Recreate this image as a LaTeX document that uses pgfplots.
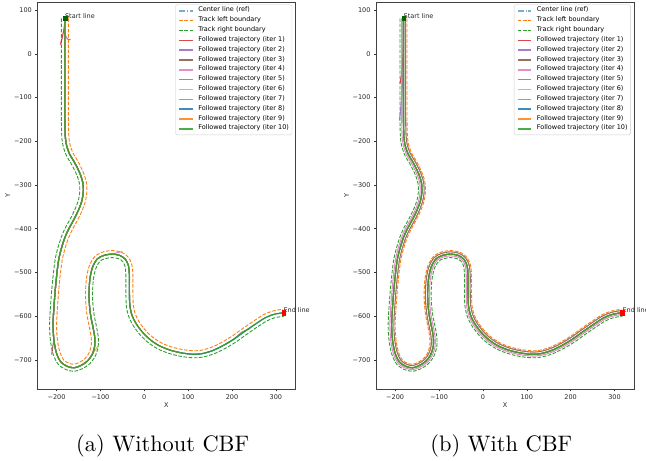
\documentclass[border=0pt]{standalone}
\usepackage{fontspec}
\usepackage{pgfplots}
\usepackage{pgfplotstable}
\pgfplotsset{compat=1.18}

\newfontfamily\dejavu{DejaVu Sans}
\newcommand\tickfont{\dejavu\fontsize{6.5}{7.5}\selectfont}

\definecolor{tabblue}{RGB}{31,119,180}
\definecolor{taborange}{RGB}{255,127,14}
\definecolor{tabgreen}{RGB}{44,160,44}
\definecolor{tabred}{RGB}{214,39,40}
\definecolor{tabpurple}{RGB}{148,103,189}
\definecolor{tabbrown}{RGB}{140,86,75}
\definecolor{tabpink}{RGB}{227,119,194}
\definecolor{tabgray}{RGB}{127,127,127}
\definecolor{tabolive}{RGB}{188,189,34}
\definecolor{tabcyan}{RGB}{23,190,207}
\definecolor{darkgreen}{RGB}{0,100,0}

% reference centre line of the track
\pgfplotstableread{
x y
-181 81
-181 40
-181 0
-181 -50
-181 -100
-181 -150
-180 -190
-177 -210
-170 -230
-161 -245
-152 -262
-145 -278
-140 -295
-139 -315
-142 -335
-149 -355
-160 -378
-172 -400
-181 -420
-189 -445
-195 -470
-199 -500
-203 -540
-206 -580
-208 -620
-206 -655
-200 -685
-190 -705
-175 -715
-160 -718
-145 -713
-130 -703
-119 -688
-113 -668
-113 -648
-117 -625
-122 -600
-125 -575
-126 -548
-124 -515
-118 -488
-107 -469
-92 -461
-74 -458
-56 -461
-43 -470
-36 -485
-34 -505
-34 -540
-33 -575
-28 -598
-18 -618
-3 -638
15 -655
35 -668
60 -678
85 -684
110 -687
130 -686
155 -679
180 -667
205 -652
230 -634
255 -617
275 -604
295 -596
317 -592
}\trkC

% left boundary
\pgfplotstableread{
x y
-173 81
-173 40
-173 0
-173 -50
-173 -100
-173 -150
-172 -189.5
-169.2 -208.1
-162.7 -226.7
-154 -241.1
-144.8 -258.5
-137.5 -275.3
-132.1 -293.7
-131 -315.4
-134.2 -336.9
-141.6 -358.1
-152.9 -381.6
-164.8 -403.6
-173.5 -422.8
-181.3 -447.2
-187.1 -471.4
-191.1 -500.9
-195 -540.7
-198 -580.5
-200 -620
-198.1 -654
-192.4 -682.6
-183.9 -699.9
-171.8 -707.7
-160.5 -710
-148.6 -705.8
-135.5 -697.2
-126.2 -684.5
-120.9 -666.8
-121 -648.7
-124.9 -626.5
-129.9 -601.3
-133 -575.6
-134 -547.9
-131.9 -513.9
-125.5 -485.2
-112.8 -463.5
-94.5 -453.4
-74 -450
-53.1 -453.5
-36.9 -464.9
-28.3 -483
-26 -504.7
-26 -539.9
-25 -574.2
-20.4 -595.4
-11.2 -613.8
3 -632.7
20 -648.7
38.6 -660.9
62.4 -670.4
86.4 -676.1
110.4 -679
128.6 -678.1
152.2 -671.5
176.2 -660
200.6 -645.3
225.4 -627.4
250.6 -610.3
271.3 -596.9
292.8 -588.3
315.6 -584.1
}\trkL

% right boundary
\pgfplotstableread{
x y
-189 81
-189 40
-189 0
-189 -50
-189 -100
-189 -150
-188 -190.5
-184.8 -211.9
-177.3 -233.3
-168 -248.9
-159.2 -265.5
-152.5 -280.7
-147.9 -296.3
-147 -314.6
-149.8 -333.1
-156.4 -351.9
-167.1 -374.4
-179.2 -396.4
-188.5 -417.2
-196.7 -442.8
-202.9 -468.6
-206.9 -499.1
-211 -539.3
-214 -579.5
-216 -620
-213.9 -656
-207.6 -687.4
-196.1 -710.1
-178.2 -722.3
-159.5 -726
-141.4 -720.2
-124.5 -708.8
-111.8 -691.5
-105.1 -669.2
-105 -647.3
-109.1 -623.5
-114.1 -598.7
-117 -574.4
-118 -548.1
-116.1 -516.1
-110.5 -490.8
-101.2 -474.5
-89.5 -468.6
-74 -466
-58.9 -468.5
-49.1 -475.1
-43.7 -487
-42 -505.3
-42 -540.1
-41 -575.8
-35.6 -600.6
-24.8 -622.2
-9 -643.3
10 -661.3
31.4 -675.1
57.6 -685.6
83.6 -691.9
109.6 -695
131.4 -693.9
157.8 -686.5
183.8 -674
209.4 -658.7
234.6 -640.6
259.4 -623.7
278.7 -611.1
297.2 -603.7
318.4 -599.9
}\trkR

% with CBF: iteration 3 (hugs the left side)
\pgfplotstableread{
x y
-176 81
-176 40
-176 0
-176 -50
-176 -100
-176 -150
-175 -189.7
-172.2 -208.8
-165.5 -227.9
-156.6 -242.6
-147.5 -259.8
-140.3 -276.3
-135.1 -294.2
-134 -315.3
-137.2 -336.2
-144.4 -356.9
-155.5 -380.3
-167.5 -402.2
-176.3 -421.8
-184.2 -446.4
-190.1 -470.9
-194 -500.6
-198 -540.4
-201 -580.3
-203 -620
-201 -654.4
-195.2 -683.5
-186.2 -701.8
-173 -710.4
-160.3 -713
-147.2 -708.5
-133.5 -699.4
-123.5 -685.8
-117.9 -667.3
-118 -648.5
-121.9 -625.9
-126.9 -600.8
-130 -575.4
-131 -547.9
-129 -514.3
-122.7 -486.3
-110.6 -465.5
-93.6 -456.3
-74 -453
-54.2 -456.3
-39.2 -466.8
-31.2 -483.8
-29 -504.8
-29 -540
-28 -574.5
-23.3 -596.4
-13.8 -615.4
0.7 -634.7
18.1 -651.1
37.3 -663.5
61.5 -673.2
85.9 -679.1
110.2 -682
129.1 -681.1
153.2 -674.3
177.6 -662.6
202.2 -647.8
227.1 -629.9
252.2 -612.8
272.7 -599.6
293.6 -591.2
316.1 -587.1
}\trajB

% with CBF: iteration 4 (right side)
\pgfplotstableread{
x y
-185 81
-185 40
-185 0
-185 -50
-185 -100
-185 -150
-184 -190.3
-180.9 -211
-173.6 -231.7
-164.5 -247
-155.6 -263.7
-148.8 -279.4
-143.9 -295.6
-143 -314.8
-145.9 -334
-152.7 -353.5
-163.6 -376.2
-175.6 -398.2
-184.7 -418.6
-192.9 -443.9
-198.9 -469.3
-203 -499.5
-207 -539.7
-210 -579.8
-212 -620
-210 -655.5
-203.8 -686.2
-193.1 -707.6
-176.6 -718.7
-159.7 -722
-143.2 -716.6
-127.2 -705.9
-115.4 -689.7
-109 -668.6
-109 -647.6
-113.1 -624.3
-118.1 -599.4
-121 -574.7
-122 -548.1
-120 -515.5
-114.2 -489.4
-104.1 -471.8
-90.7 -464.8
-74 -462
-57.4 -464.7
-46.1 -472.6
-39.9 -486
-38 -505.1
-38 -540
-37 -575.4
-31.8 -599.3
-21.4 -620.1
-6 -640.7
12.5 -658.1
33.2 -671.6
58.8 -681.8
84.3 -687.9
109.8 -691
130.7 -689.9
156.4 -682.7
181.9 -670.5
207.2 -655.3
232.3 -637.3
257.2 -620.3
276.9 -607.5
296.1 -599.8
317.7 -595.9
}\trajP

\pgfplotsset{
  trackaxis/.style={
    anchor=south west,
    scale only axis,
    width=257.5pt, height=387.4pt,
    xmin=-243, xmax=344, ymin=-767, ymax=119,
    xtick={-200,-100,0,100,200,300},
    xticklabels={−200,−100,0,100,200,300},
    ytick={100,0,-100,-200,-300,-400,-500,-600,-700},
    yticklabels={100,0,−100,−200,−300,−400,−500,−600,−700},
    tick align=outside,
    tick pos=left,
    major tick length=2.3pt,
    tick style={black!80, line width=0.5pt},
    axis line style={black!75, line width=0.6pt},
    tick label style={font=\tickfont, text=black!85},
    xlabel={X}, ylabel={Y},
    label style={font=\tickfont, text=black!85},
    xlabel style={at={(axis description cs:0.5,0)}, anchor=north, yshift=-13.2pt, inner sep=0pt},
    ylabel style={at={(axis description cs:-0.116,0.5)}, anchor=center, inner sep=0pt},
    clip=false,
    legend cell align=left,
    legend image code/.code={\draw[##1, line width=1.5pt] (0pt,0pt) -- (13.3pt,0pt);},
    legend style={
      at={(rel axis cs:1,1)}, anchor=north east, xshift=-3pt, yshift=-2.7pt,
      font=\tickfont, fill=white, fill opacity=0.8, text opacity=1,
      draw=black!20, rounded corners=1.5pt,
      inner xsep=3pt, inner ysep=1.2pt,
      row sep=0pt, column sep=5pt,
      nodes={inner xsep=0pt, inner ysep=0pt, text height=6pt, text depth=3.83pt},
    },
  },
  ctr/.style={tabblue, opacity=0.6, line width=1pt, smooth,
    dash pattern=on 6.2pt off 1.6pt on 1pt off 1.6pt},
  bnd/.style={line width=0.9pt, smooth, dash pattern=on 3.6pt off 1.6pt},
  traj/.style={line width=1.1pt, opacity=0.85, smooth},
}

\begin{document}
\begin{tikzpicture}

% ---------- (a) without CBF ----------
\begin{axis}[trackaxis, at={(37.7pt,71.8pt)}]
\addplot[ctr] table {\trkC};
\addlegendentry{Center line (ref)}
\addplot[bnd, taborange] table {\trkL};
\addlegendentry{Track left boundary}
\addplot[bnd, tabgreen] table {\trkR};
\addlegendentry{Track right boundary}

\addplot[traj, tabred] coordinates {(-181,81) (-182,65) (-185,47) (-188,33) (-191,21)};
\addlegendentry{Followed trajectory (iter 1)}
\addplot[traj, tabpurple] coordinates {(-181,81) (-181,50) (-178,38) (-174,33) (-168,33)};
\addlegendentry{Followed trajectory (iter 2)}
\addplot[traj, tabbrown, skip coords between index={26}{67}] table {\trkC};
\addlegendentry{Followed trajectory (iter 3)}
\addplot[traj, tabbrown, forget plot] coordinates {(-206,-655) (-209,-672) (-211,-688)};
\addplot[traj, tabpink, skip coords between index={44}{67}] table {\trkC};
\addlegendentry{Followed trajectory (iter 4)}
\addplot[traj, tabpink, forget plot] coordinates {(-74,-458) (-62,-455) (-50,-452)};
\addplot[traj, tabgray, skip coords between index={62}{67}] table {\trkC};
\addlegendentry{Followed trajectory (iter 5)}
\addplot[traj, tabgray, forget plot] coordinates {(205,-652) (222,-637) (242,-628)};
\addplot[traj, tabolive, skip coords between index={33}{67}] table {\trkC};
\addlegendentry{Followed trajectory (iter 6)}
\addplot[traj, tabolive, forget plot] coordinates {(-119,-688) (-110,-675) (-104,-666)};
\addplot[traj, tabcyan, skip coords between index={51}{67}] table {\trkC};
\addlegendentry{Followed trajectory (iter 7)}
\addplot[traj, tabblue] table {\trkC};
\addlegendentry{Followed trajectory (iter 8)}
\addplot[traj, taborange, skip coords between index={57}{67}] table {\trkC};
\addlegendentry{Followed trajectory (iter 9)}
\addplot[traj, tabgreen, line width=1.2pt] table {\trkC};
\addlegendentry{Followed trajectory (iter 10)}

\addplot[only marks, mark=square*, mark size=1.7pt, darkgreen, forget plot] coordinates {(-180.6,81.7)};
\addplot[only marks, mark=square*, mark size=1.8pt, red, mark options={yscale=1.35}, forget plot] coordinates {(317.4,-591.8)};
\node[anchor=base west, inner sep=0pt, font=\tickfont, text=black!85] at (axis cs:-181,81) {Start line};
\node[anchor=base west, inner sep=0pt, font=\tickfont, text=black!85] at (axis cs:317,-592) {End line};
\end{axis}

% ---------- (b) with CBF ----------
\begin{axis}[trackaxis, at={(376.3pt,71.8pt)}]
\addplot[ctr] table {\trkC};
\addlegendentry{Center line (ref)}
\addplot[bnd, taborange] table {\trkL};
\addlegendentry{Track left boundary}
\addplot[bnd, tabgreen] table {\trkR};
\addlegendentry{Track right boundary}

\addplot[traj, tabred] coordinates {(-181,81) (-181,40) (-182,0) (-184,-30) (-186,-50) (-189,-68)};
\addlegendentry{Followed trajectory (iter 1)}
\addplot[traj, tabpurple] coordinates {(-181,81) (-181,20) (-182,-30) (-184,-80) (-187,-120) (-190,-152)};
\addlegendentry{Followed trajectory (iter 2)}
\addplot[traj, tabbrown] table {\trajB};
\addlegendentry{Followed trajectory (iter 3)}
\addplot[traj, tabpink] table {\trajP};
\addlegendentry{Followed trajectory (iter 4)}
\addplot[traj, tabgray] table {\trkC};
\addlegendentry{Followed trajectory (iter 5)}
\addplot[traj, tabolive] table {\trkC};
\addlegendentry{Followed trajectory (iter 6)}
\addplot[traj, tabcyan] table {\trkC};
\addlegendentry{Followed trajectory (iter 7)}
\addplot[traj, tabblue] table {\trkC};
\addlegendentry{Followed trajectory (iter 8)}
\addplot[traj, taborange] table {\trkC};
\addlegendentry{Followed trajectory (iter 9)}
\addplot[traj, tabgreen, line width=1.2pt] table {\trkC};
\addlegendentry{Followed trajectory (iter 10)}

\addplot[only marks, mark=square*, mark size=1.7pt, darkgreen, forget plot] coordinates {(-180.6,81.7)};
\addplot[only marks, mark=square*, mark size=1.8pt, red, mark options={yscale=1.35}, forget plot] coordinates {(318,-592.5)};
\node[anchor=base west, inner sep=0pt, font=\tickfont, text=black!85] at (axis cs:-181,81) {Start line};
\node[anchor=base west, inner sep=0pt, font=\tickfont, text=black!85] at (axis cs:318,-592) {End line};
\end{axis}

\node[anchor=base, scale=2.24] at (162.7pt,9.3pt) {\fontsize{10}{12}\selectfont (a) Without CBF};
\node[anchor=base, scale=2.24] at (501.3pt,9.3pt) {\fontsize{10}{12}\selectfont (b) With CBF};

\pgfresetboundingbox
\useasboundingbox (0,0) rectangle (646pt,461pt);
\end{tikzpicture}
\end{document}
